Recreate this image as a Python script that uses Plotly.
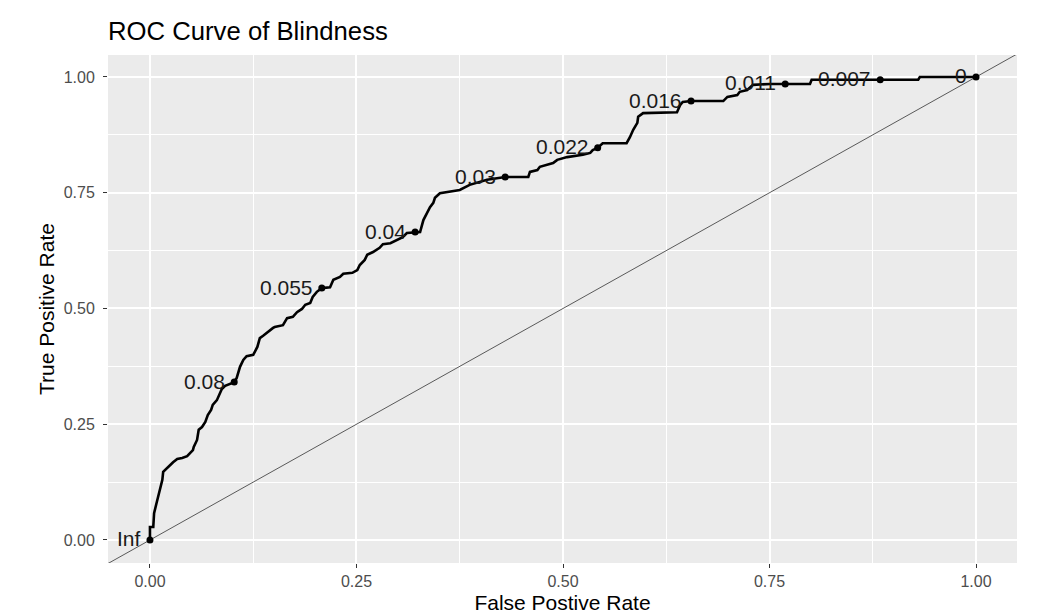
import plotly.graph_objects as go

# ROC curve vertices (false positive rate, true positive rate)
fpr = [0, 0, .004, .005, .008, .011, .015, .016, .021, .024, .028, .033, .039, .045, .048, .052, .053,
       .057, .059, .063, .067, .070, .074, .076, .081, .085, .087, .091, .097, .102, .105, .107, .109,
       .113, .117, .125, .130, .133, .137, .149, .151, .161, .166, .173, .178, .184, .188, .194, .197,
       .202, .208, .218, .222, .230, .234, .245, .251, .254, .260, .263, .270, .278, .282, .291, .299,
       .306, .311, .321, .327, .331, .335, .339, .343, .345, .351, .375, .387, .408, .430, .458, .460,
       .469, .472, .488, .493, .505, .524, .533, .536, .542, .548, .577, .581, .585, .590, .591, .597,
       .638, .642, .645, .655, .694, .699, .711, .714, .723, .730, .751, .769, .799, .801, .884, .930,
       .932, 1.0]
tpr = [0, .028, .028, .058, .080, .102, .130, .147, .156, .162, .168, .175, .177, .181, .186, .194, .201,
       .216, .238, .244, .255, .270, .281, .292, .302, .318, .326, .333, .337, .341, .350, .361, .374,
       .389, .397, .400, .417, .436, .441, .458, .460, .464, .479, .482, .492, .499, .508, .512, .525,
       .536, .544, .546, .562, .568, .575, .577, .583, .594, .605, .616, .622, .631, .639, .641, .648,
       .654, .663, .665, .665, .691, .706, .719, .728, .739, .749, .756, .767, .778, .784, .784, .795,
       .799, .806, .814, .821, .827, .832, .836, .842, .847, .857, .857, .870, .886, .901, .914, .922,
       .924, .940, .946, .948, .948, .957, .961, .968, .972, .983, .985, .985, .985, .994, .994, .994,
       1.0, 1.0]

# labelled cutoffs
cut_labels = ["Inf", "0.08", "0.055", "0.04", "0.03", "0.022", "0.016", "0.011", "0.007", "0"]
cut_fpr = [0, .102, .208, .321, .430, .542, .655, .769, .884, 1.0]
cut_tpr = [0, .341, .544, .665, .784, .847, .948, .985, .994, 1.0]

x_ticks = [0, 0.25, 0.5, 0.75, 1.0]
x_tick_text = ["0.00", "0.25", "0.50", "0.75", "1.00"]
y_ticks = [0, 0.25, 0.5, 0.75, 1.0]
y_tick_text = ["0.00", "0.25", "0.50", "0.75", "1.00"]

FONT = "Liberation Sans, Arial, sans-serif"

fig = go.Figure()

# reference diagonal (abline)
fig.add_trace(go.Scatter(x=[-0.2, 1.2], y=[-0.2, 1.2], mode="lines",
                         line=dict(color="#333333", width=0.8), hoverinfo="skip", showlegend=False))

fig.add_trace(go.Scatter(x=fpr, y=tpr, mode="lines",
                         line=dict(color="black", width=2.6), showlegend=False))

fig.add_trace(go.Scatter(x=cut_fpr, y=cut_tpr, mode="markers",
                         marker=dict(color="black", size=7), showlegend=False))

for lab, xv, yv in zip(cut_labels, cut_fpr, cut_tpr):
    fig.add_annotation(x=xv, y=yv, xref="x", yref="y", text=lab, showarrow=False,
                       xanchor="right", yanchor="middle", xshift=-7, yshift=1,
                       font=dict(family=FONT, size=21, color="#1a1a1a"))

axis_common = dict(
    showgrid=True, gridcolor="white", gridwidth=1.5,
    minor=dict(showgrid=True, gridcolor="white", gridwidth=0.7, dtick=0.125, tick0=0.125),
    zeroline=False, showline=False, automargin=False,
    ticks="outside", ticklen=4, tickwidth=1, tickcolor="#333333",
    tickfont=dict(family=FONT, size=16, color="#4d4d4d"),
)

# the page body adds an 8px offset, so the figure is 8px smaller and margins shifted
fig.update_layout(
    width=1029, height=607,
    margin=dict(l=100, r=20, t=47, b=52),
    paper_bgcolor="white", plot_bgcolor="#EBEBEB",
    title=dict(text="ROC Curve of Blindness", x=100/1029, xanchor="left", xref="container",
               y=1-23/607, yanchor="middle", yref="container",
               font=dict(family=FONT, size=25.7, color="black")),
    xaxis=dict(range=[-0.0508, 1.0496], tickvals=x_ticks, ticktext=x_tick_text,
               ticklabelstandoff=0,
               title=dict(text="False Postive Rate", font=dict(family=FONT, size=21, color="black"),
                          standoff=6),
               **axis_common),
    yaxis=dict(range=[-0.0497, 1.0475], tickvals=y_ticks, ticktext=y_tick_text,
               ticklabelstandoff=5,
               title=dict(text="True Positive Rate", font=dict(family=FONT, size=21, color="black"),
                          standoff=3),
               **axis_common),
)

fig.write_html("out.html")
